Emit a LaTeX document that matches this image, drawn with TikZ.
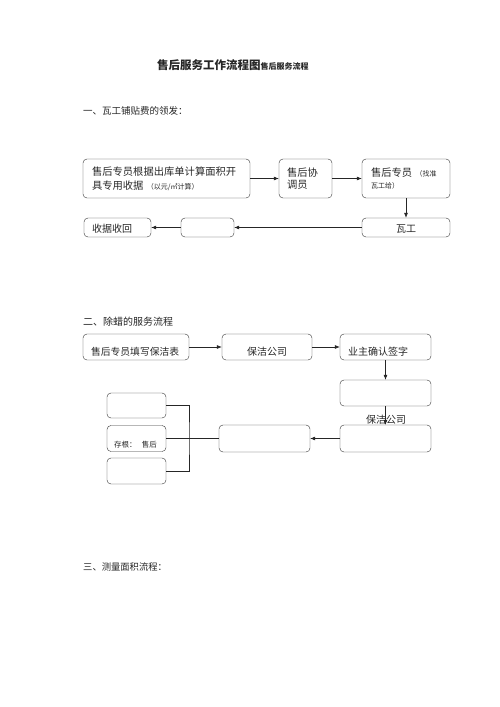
\documentclass[tikz,border=0pt]{standalone}
\usepackage{fontspec}
\setmainfont{Noto Sans CJK SC}
\usetikzlibrary{positioning}
\usetikzlibrary{arrows.meta}

\begin{document}
\begin{tikzpicture}[>={Latex[length=5pt, width=4pt]},
                    x = 1pt, y = -1pt,
                    font = \fontsize{10}{13}\selectfont,
                    flowbox/.style = {draw = black!80, rounded corners = 4pt, inner sep = 0pt, align = left, text = black!85},
                    lowered/.style = {text height = #1},
                    heading/.style = {anchor = west, inner sep = 0pt, text = black!85},
                    link/.style = {->, draw = black!85, semithick}]
    \useasboundingbox (0,0) rectangle (500,707);

    % Title and the section headings:
    \node [heading, font = \fontsize{11.5}{13}\selectfont\bfseries] (title) at (157,65)
        {售后服务工作流程图{\fontsize{8}{9}\selectfont 售后服务流程}};
    \node [heading, font = \fontsize{9.5}{12}\selectfont] (head1) at (83,111) {一、瓦工铺贴费的领发：};
    \node [heading] (head2) at (83,322) {二、除蜡的服务流程};
    \node [heading, font = \fontsize{9.3}{12}\selectfont] (head3) at (83,567) {三、测量面积流程：};

    % Section one:
    \node [flowbox, minimum width = 167, minimum height = 39, text width = 149, font = \fontsize{10.3}{14}\selectfont] (issue) at (166.5,178.5)
        {售后专员根据出库单计算面积开\\具专用收据 {\fontsize{7}{9}\selectfont（以元/㎡计算）}};
    \node [flowbox, minimum width = 53, minimum height = 39, text width = 37, font = \fontsize{10.3}{11.5}\selectfont] (coord) at (305.5,178.5)
        {售后协\\调员};
    \node [flowbox, minimum width = 88, minimum height = 39, text width = 70, font = \fontsize{10.3}{12}\selectfont] (agent) at (406,178.5)
        {售后专员 {\fontsize{7}{9}\selectfont（找准}\\{\fontsize{7}{9}\selectfont 瓦工给）}};
    \node [flowbox, minimum width = 88, minimum height = 19, align = center, lowered = 11pt] (tiler) at (406,227.5) {瓦工};
    \node [flowbox, minimum width = 53, minimum height = 19] (blank1) at (207.5,227.5) {};
    \node [flowbox, minimum width = 67, minimum height = 19, text width = 51, lowered = 10pt] (back) at (117.5,227.5) {收据收回};

    \draw [link] (issue) -- (coord);
    \draw [link] (coord) -- (agent);
    \draw [link] (agent) -- (tiler);
    \draw [link] (tiler) -- (blank1);
    \draw [link] (blank1) -- (back);

    % Section two:
    \node [flowbox, minimum width = 106, minimum height = 26, text width = 90, font = \fontsize{9.8}{12}\selectfont, lowered = 17pt] (form) at (136,347)
        {售后专员填写保洁表};
    \node [flowbox, minimum width = 90, minimum height = 26, align = center, lowered = 17pt] (clean) at (267,347) {保洁公司};
    \node [flowbox, minimum width = 91, minimum height = 26, text width = 75, lowered = 17pt] (owner) at (385.5,347) {业主确认签字};
    \node [flowbox, minimum width = 91, minimum height = 26] (blank2) at (385.5,393) {};
    \node [flowbox, minimum width = 91, minimum height = 27] (blank3) at (385.5,438.5) {};
    \node [inner sep = 0pt, text = black!85] (cleanlbl) at (386,420) {保洁公司};
    \node [flowbox, minimum width = 91, minimum height = 27] (blank4) at (264.5,438.5) {};
    \node [flowbox, minimum width = 59, minimum height = 25] (stub1) at (136.5,405.5) {};
    \node [flowbox, minimum width = 59, minimum height = 26, text width = 45, font = \fontsize{7.5}{10}\selectfont, lowered = 19pt] (stub2) at (136.5,438.5)
        {存根：\hspace{5.5pt}售后};
    \node [flowbox, minimum width = 59, minimum height = 26] (stub3) at (136.5,471) {};
    \coordinate (joint) at (189,438.5);

    \draw [link] (form) -- (clean);
    \draw [link] (clean) -- (owner);
    \draw [link] (owner) -- (blank2);
    \draw [link] (blank2) -- (blank3);
    \draw [link] (blank3) -- (blank4);
    \draw [semithick, black!85] (stub2) -- (blank4);
    \draw [semithick, black!85] (stub1) -| (joint) |- (stub3);
\end{tikzpicture}
\end{document}
